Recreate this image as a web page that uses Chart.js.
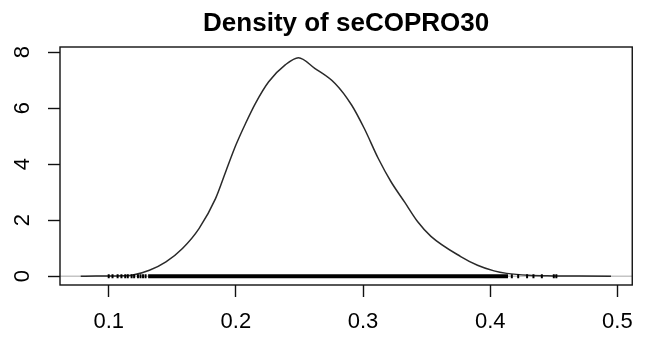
<!DOCTYPE html>
<html>
<head>
<meta charset="utf-8">
<script src="https://cdn.jsdelivr.net/npm/chart.js@4/dist/chart.umd.min.js"></script>
<style>
  html, body { margin: 0; padding: 0; background: #fff; }
  #wrap { width: 645px; height: 338px; }
</style>
</head>
<body>
<div id="wrap"><canvas id="densityChart"></canvas></div>
<script>
// === DATA ===
const TITLE = "Density of seCOPRO30";

// density curve
const densX = [0.078, 0.09, 0.10, 0.11, 0.119, 0.132, 0.145, 0.158, 0.171, 0.184, 0.192, 0.200, 0.2076, 0.2154, 0.2258, 0.2388, 0.2492, 0.262, 0.278, 0.291, 0.301, 0.312, 0.322, 0.3326, 0.343, 0.3534, 0.3768, 0.390, 0.403, 0.413, 0.43, 0.45, 0.47, 0.495];
const densY = [0, 0.002, 0.005, 0.015, 0.04, 0.21, 0.51, 0.99, 1.70, 2.77, 3.73, 4.68, 5.45, 6.17, 6.94, 7.54, 7.80, 7.42, 6.88, 6.11, 5.27, 4.20, 3.37, 2.65, 1.94, 1.42, 0.70, 0.39, 0.19, 0.10, 0.03, 0.01, 0.003, 0];

// rug: sparse marks in the tails, dense band in the middle
const rugX = [0.100, 0.103, 0.107, 0.110, 0.113, 0.115, 0.118, 0.120, 0.123, 0.125, 0.127, 0.129, 0.417, 0.422, 0.429, 0.434, 0.4406, 0.450, 0.452];
const rugBand = [0.131, 0.414];

// axes
const xTicks = [0.1, 0.2, 0.3, 0.4, 0.5];
const yTicks = [0, 2, 4, 6, 8];
const xRange = [0.0617, 0.5117];
const yRange = [-0.315, 8.18];

// === PLUGINS ===
// R-style box around the plot region
const frame = {
    id: "frame",
    afterDraw(chart) {
        const { ctx, chartArea: a } = chart;
        ctx.save();
        ctx.strokeStyle = "#111";
        ctx.lineWidth = 1.4;
        ctx.strokeRect(a.left, a.top, a.right - a.left, a.bottom - a.top);
        ctx.restore();
    },
};

const FONT = "'Liberation Sans', Arial, sans-serif";

new Chart(document.getElementById("densityChart"), {
    type: "line",
    data: {
        datasets: [
            {
                // rug marks
                type: "scatter",
                data: rugX.map((x) => ({ x, y: 0 })),
                pointStyle: "line",
                rotation: 90,
                radius: 2,
                borderColor: "#000",
                borderWidth: 2,
                order: 0,
            },
            {
                // dense part of the rug
                data: rugBand.map((x) => ({ x, y: 0 })),
                borderColor: "#000",
                borderWidth: 4,
                pointRadius: 0,
                order: 1,
            },
            {
                data: densX.map((x, i) => ({ x, y: densY[i] })),
                borderColor: "#2a2a2a",
                borderWidth: 1.5,
                pointRadius: 0,
                cubicInterpolationMode: "monotone",
                order: 2,
            },
            {
                // zero line
                data: xRange.map((x) => ({ x, y: 0 })),
                borderColor: "#c4c4c4",
                borderWidth: 1.5,
                pointRadius: 0,
                order: 3,
            },
        ],
    },
    options: {
        responsive: true,
        maintainAspectRatio: false,
        animation: false,
        layout: { padding: { left: 0, right: 9, top: 0, bottom: 0 } },
        plugins: {
            legend: { display: false },
            tooltip: { enabled: false },
            title: {
                display: true,
                text: TITLE,
                fullSize: false,
                color: "#000",
                font: { family: FONT, size: 26, weight: "bold" },
                padding: { top: 8, bottom: 7.8 },
            },
        },
        scales: {
            x: {
                type: "linear",
                min: xRange[0],
                max: xRange[1],
                afterBuildTicks: (s) => { s.ticks = xTicks.map((v) => ({ value: v })); },
                afterFit: (s) => { s.height = 53; },
                grid: { drawOnChartArea: false, tickLength: 12, tickColor: "#111", tickWidth: 1.4 },
                border: { display: false },
                ticks: {
                    color: "#000",
                    font: { family: FONT, size: 22 },
                    padding: 12,
                    maxRotation: 0,
                    callback: (v) => v.toFixed(1),
                },
            },
            y: {
                min: yRange[0],
                max: yRange[1],
                afterBuildTicks: (s) => { s.ticks = yTicks.map((v) => ({ value: v })); },
                afterFit: (s) => { s.width = 60; },
                grid: { drawOnChartArea: false, tickLength: 12, tickColor: "#111", tickWidth: 1.4 },
                border: { display: false },
                ticks: {
                    color: "#000",
                    font: { family: FONT, size: 22 },
                    padding: 19,
                    minRotation: 90,
                    maxRotation: 90,
                    crossAlign: "center",
                },
            },
        },
    },
    plugins: [frame],
});
</script>
</body>
</html>
